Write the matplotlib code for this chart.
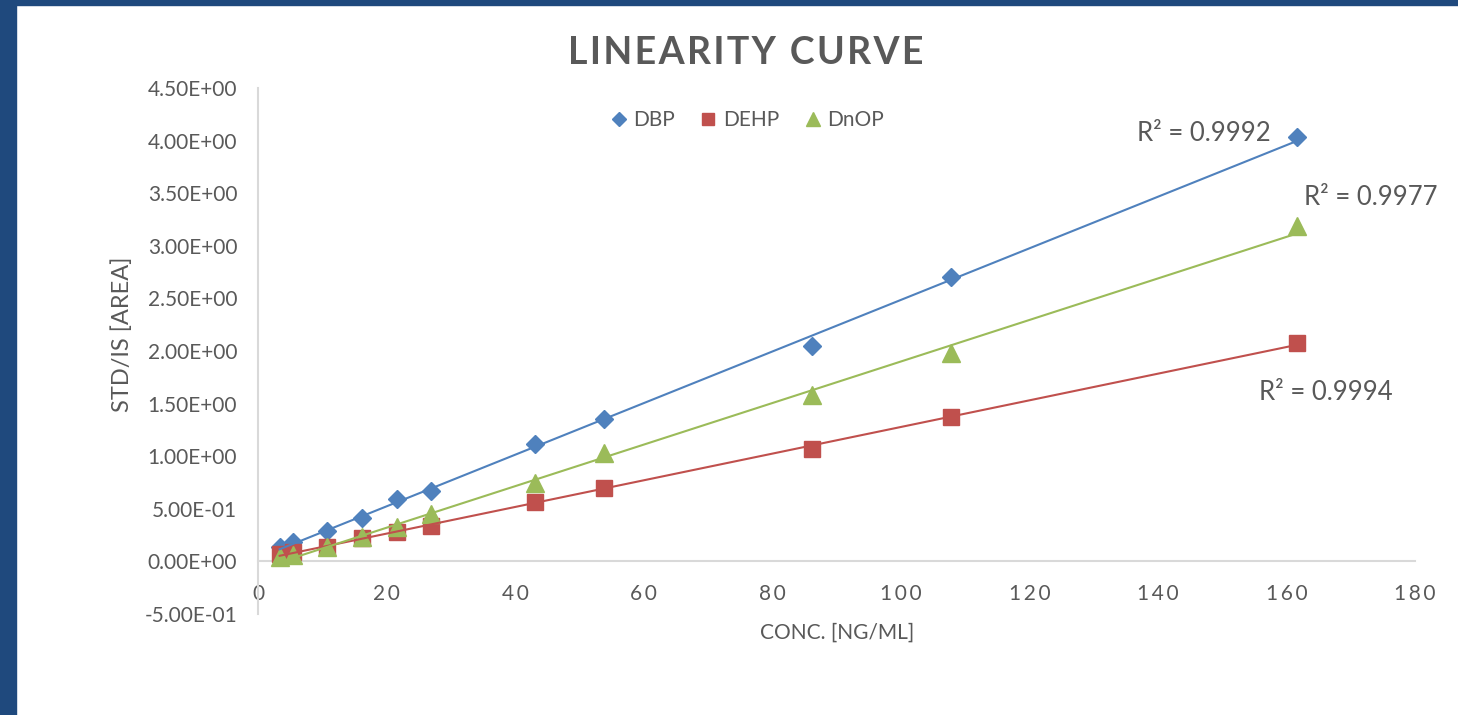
import numpy as np
import matplotlib.pyplot as plt
from matplotlib.patches import Rectangle
from matplotlib.lines import Line2D

# Concentration (ng/mL) and STD/IS area ratios
conc = [3.37, 5.39, 10.78, 16.17, 21.56, 26.95, 43.12, 53.9, 86.24, 107.8, 161.7]
dbp = [0.14, 0.18, 0.29, 0.41, 0.59, 0.67, 1.12, 1.35, 2.05, 2.70, 4.03]
dehp = [0.07, 0.09, 0.14, 0.22, 0.28, 0.34, 0.56, 0.70, 1.07, 1.37, 2.08]
dnop = [0.04, 0.06, 0.14, 0.23, 0.33, 0.45, 0.75, 1.03, 1.58, 1.98, 3.19]

series_names = ['DBP', 'DEHP', 'DnOP']
r2_labels = ['R² = 0.9992', 'R² = 0.9994', 'R² = 0.9977']
# where each R² label sits (data coords)
r2_pos = [(147.2, 4.07), (166.1, 1.61), (173.1, 3.46)]

x_ticks = list(range(0, 181, 20))
y_ticks = [-0.5, 0.0, 0.5, 1.0, 1.5, 2.0, 2.5, 3.0, 3.5, 4.0, 4.5]

colors = ['#4F81BD', '#C0504D', '#9BBB59']
markers = ['D', 's', '^']
msizes = [9, 11.5, 12.5]

plt.rcParams['font.family'] = ['Lato', 'DejaVu Sans']
text_col = '#595959'
axis_col = '#D9D9D9'

fig = plt.figure(figsize=(14.58, 7.15), dpi=100)
ax = fig.add_axes([258 / 1458, 1 - 614 / 715, (1415 - 258) / 1458, (614 - 88) / 715])

x = np.array(conc)
for ys, c, m, ms in zip([dbp, dehp, dnop], colors, markers, msizes):
    ys = np.array(ys)
    ax.plot(x, ys, linestyle='none', marker=m, ms=ms, color=c, mec=c, zorder=3)
    # linear trendline
    k, b = np.polyfit(x, ys, 1)
    xt = np.array([x.min(), x.max()])
    ax.plot(xt, k * xt + b, color=c, lw=1.5, zorder=4)

for lab, (px, py) in zip(r2_labels, r2_pos):
    ax.text(px, py, lab, ha='center', va='center', fontsize=18.5, color=text_col)

ax.set_xlim(0, 180)
ax.set_ylim(-0.5, 4.5)
ax.set_xticks(x_ticks)
ax.set_xticklabels(['\u2009'.join(str(t)) for t in x_ticks])
ax.set_yticks(y_ticks)
ax.set_yticklabels(['{:.2E}'.format(v) for v in y_ticks])
ax.tick_params(axis='both', length=0, labelsize=15, labelcolor=text_col)
ax.tick_params(axis='x', pad=16)
ax.tick_params(axis='y', pad=15)

for s in ['top', 'right']:
    ax.spines[s].set_visible(False)
ax.spines['bottom'].set_position(('data', 0))
ax.spines['bottom'].set_color(axis_col)
ax.spines['left'].set_color(axis_col)
ax.spines['bottom'].set_linewidth(1.5)
ax.spines['left'].set_linewidth(1.5)

fig.text(122 / 1458, 1 - 334 / 715, 'STD/IS [AREA]', rotation=90, ha='center', va='center',
         fontsize=17, color=text_col)
fig.text(837 / 1458, 1 - 633 / 715, 'CONC. [NG/ML]', ha='center', va='center',
         fontsize=15, color=text_col)
# letter-spaced title
fig.text(746 / 1458, 1 - 53 / 715, '\u200a'.join('LINEARITY CURVE'), ha='center', va='center',
         fontsize=27, fontweight='bold', color=text_col)

handles = [Line2D([], [], linestyle='none', marker=m, ms=ms * 0.8, color=c)
           for m, ms, c in zip(markers, msizes, colors)]
fig.legend(handles, series_names, loc='center', bbox_to_anchor=(745 / 1458, 1 - 120 / 715),
           ncol=3, frameon=False, fontsize=15, handletextpad=0.1, columnspacing=1.0,
           labelcolor=text_col, handlelength=1.2)

# dark blue frame strips on the left and top
frame_col = '#1F497D'
fig.patches.append(Rectangle((0, 0), 16 / 1458, 1, transform=fig.transFigure, color=frame_col))
fig.patches.append(Rectangle((0, 1 - 5 / 715), 1, 5 / 715, transform=fig.transFigure, color=frame_col))

fig.savefig('out.png', dpi=100)
